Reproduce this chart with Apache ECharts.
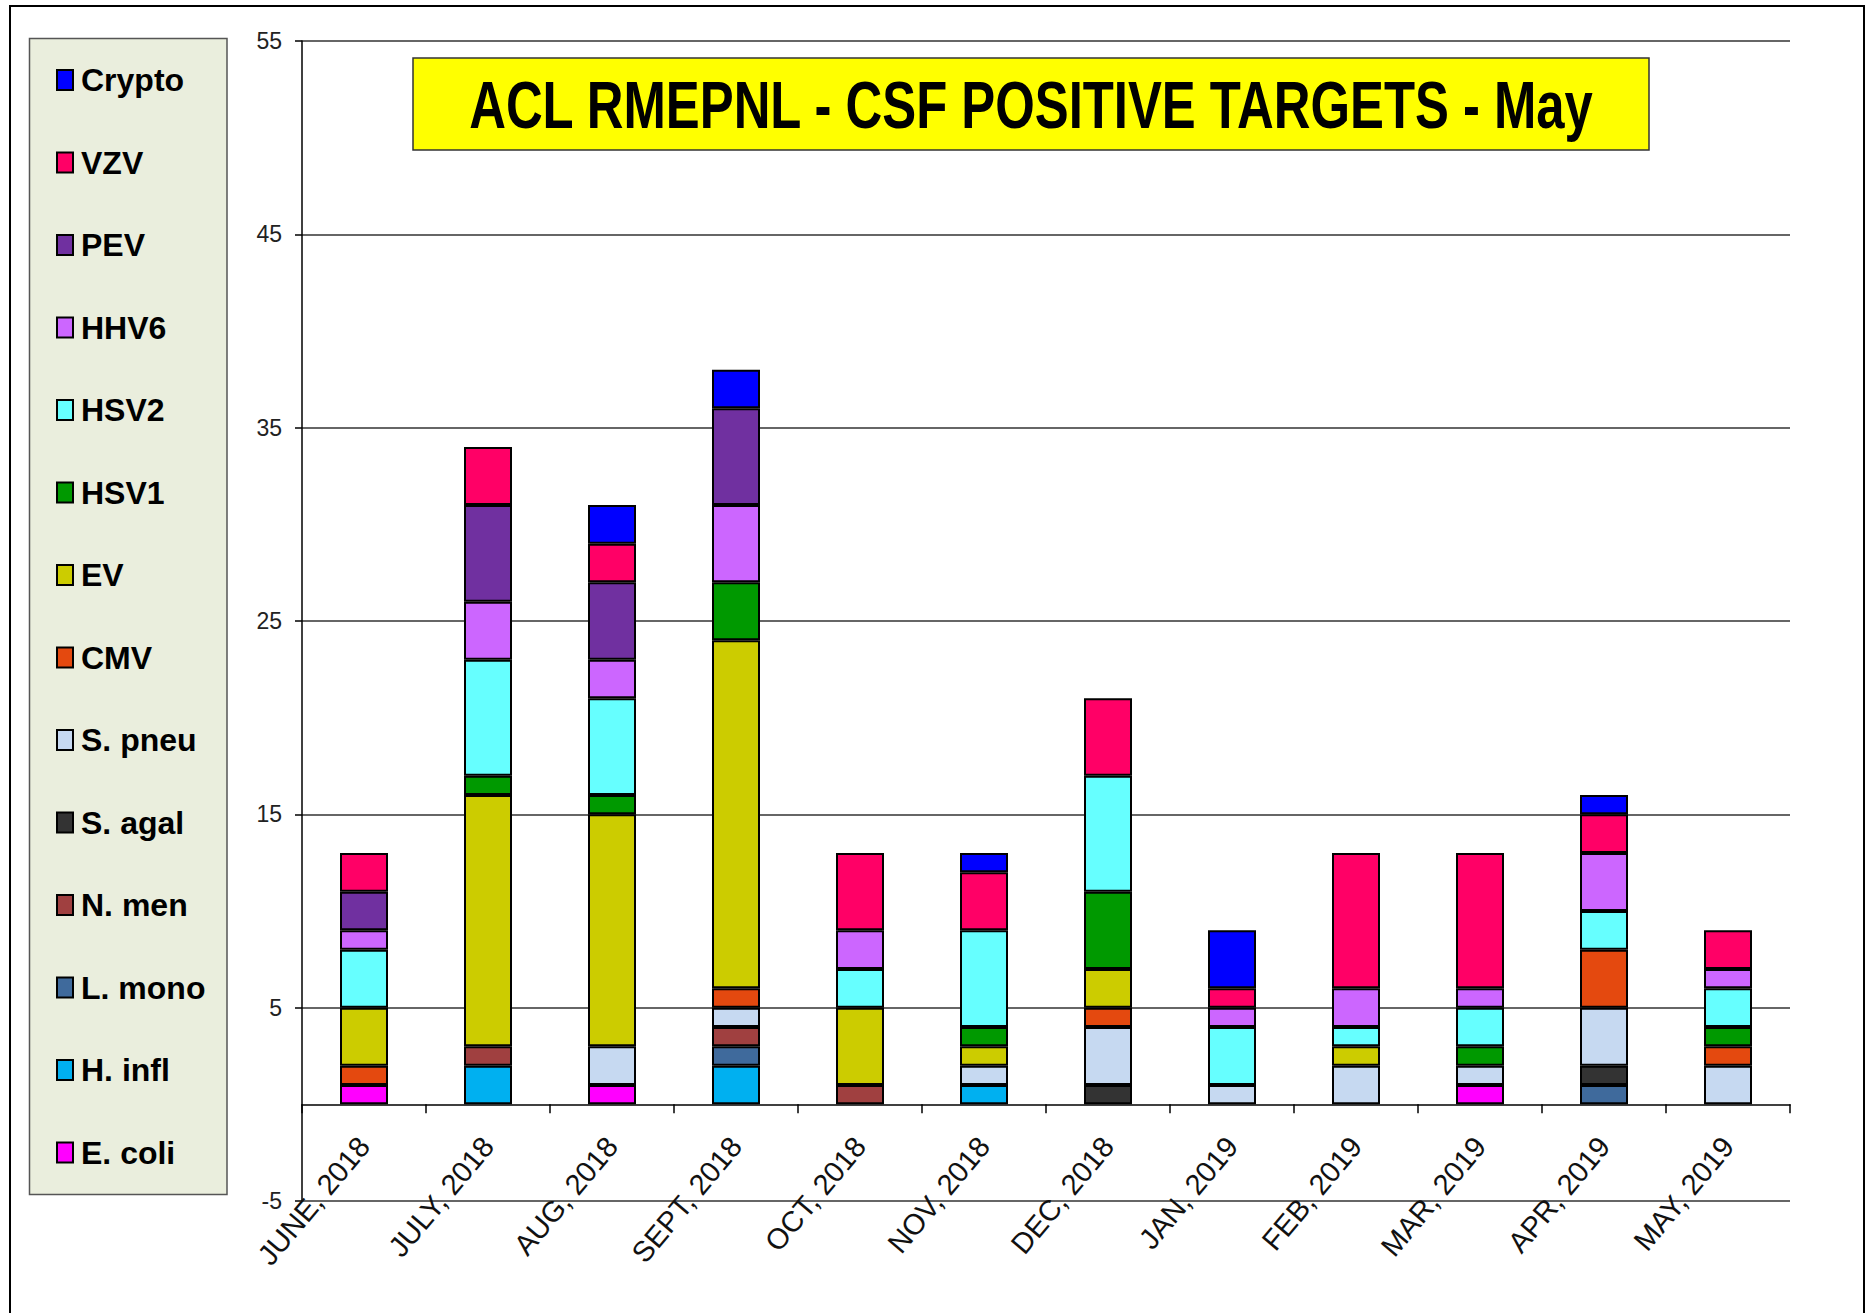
<!DOCTYPE html>
<html>
<head>
<meta charset="utf-8">
<script src="https://cdn.jsdelivr.net/npm/echarts@6/dist/echarts.min.js"></script>
<style>
html,body{margin:0;padding:0;background:#fff;}
#c{width:1868px;height:1313px;}
</style>
</head>
<body>
<div id="c"></div>
<script>
const months = ['JUNE, 2018','JULY, 2018','AUG, 2018','SEPT, 2018','OCT, 2018','NOV, 2018','DEC, 2018','JAN, 2019','FEB, 2019','MAR, 2019','APR, 2019','MAY, 2019'];
const yTicks = {min: -5, max: 55, interval: 10};

const eColi  = [1,0,1,0,0,0,0,0,0,1,0,0];
const hInfl  = [0,2,0,2,0,1,0,0,0,0,0,0];
const lMono  = [0,0,0,1,0,0,0,0,0,0,1,0];
const nMen   = [0,1,0,1,1,0,0,0,0,0,0,0];
const sAgal  = [0,0,0,0,0,0,1,0,0,0,1,0];
const sPneu  = [0,0,2,1,0,1,3,1,2,1,3,2];
const cmv    = [1,0,0,1,0,0,1,0,0,0,3,1];
const ev     = [3,13,12,18,4,1,2,0,1,0,0,0];
const hsv1   = [0,1,1,3,0,1,4,0,0,1,0,1];
const hsv2   = [3,6,5,0,2,5,6,3,1,2,2,2];
const hhv6   = [1,3,2,4,2,0,0,1,2,1,3,1];
const pev    = [2,5,4,5,0,0,0,0,0,0,0,0];
const vzv    = [2,3,2,0,4,3,4,1,7,7,2,2];
const crypto = [0,0,2,2,0,1,0,3,0,0,1,0];

const seriesNames = ['E. coli','H. infl','L. mono','N. men','S. agal','S. pneu','CMV','EV','HSV1','HSV2','HHV6','PEV','VZV','Crypto'];
const seriesValues = [eColi,hInfl,lMono,nMen,sAgal,sPneu,cmv,ev,hsv1,hsv2,hhv6,pev,vzv,crypto];
const seriesColors = ['#FF00FF','#00B0F0','#3F6A9C','#A04040','#333333','#C6D9F1','#E4490F','#CCCC00','#009900','#66FFFF','#CC66FF','#7030A0','#FF0066','#0000FF'];

const titleText = 'ACL RMEPNL - CSF POSITIVE TARGETS - May';
const sans = "'Liberation Sans',Arial,sans-serif";

const chart = echarts.init(document.getElementById('c'), null, {renderer: 'svg'});

const series = seriesNames.map((name, i) => ({
  name: name,
  type: 'bar',
  stack: 'total',
  barWidth: 48,
  data: seriesValues[i].map(v => v === 0 ? '-' : v),
  itemStyle: {color: seriesColors[i], borderColor: '#000', borderWidth: 2},
  emphasis: {disabled: true}
}));

chart.setOption({
  animation: false,
  backgroundColor: '#fff',
  graphic: [
    {type: 'rect', z: 0, shape: {x: 10, y: 6, width: 1854, height: 1400},
     style: {fill: 'none', stroke: '#000', lineWidth: 2}},
    {type: 'rect', z: 0, shape: {x: 29.5, y: 38.5, width: 197.5, height: 1156},
     style: {fill: '#EAEEDD', stroke: '#555', lineWidth: 1.5}},
    {type: 'rect', z: 5, shape: {x: 413, y: 58, width: 1236, height: 92},
     style: {fill: '#FFFF00', stroke: '#333', lineWidth: 1.5}},
    {type: 'text', z: 6, x: 1031, y: 105, scaleX: 0.77, scaleY: 1,
     style: {text: titleText, fill: '#000', font: "bold 66px " + sans,
             textAlign: 'center', textVerticalAlign: 'middle'}}
  ],
  legend: {
    orient: 'vertical',
    left: 56,
    top: 60,
    padding: 0,
    itemWidth: 16,
    itemHeight: 20,
    itemGap: 42.5,
    icon: 'rect',
    selectedMode: false,
    data: seriesNames.slice().reverse(),
    textStyle: {fontFamily: sans, fontWeight: 'bold', fontSize: 32, lineHeight: 40, color: '#000', padding: [0,0,0,3]}
  },
  grid: {left: 302, right: 78, top: 41, bottom: 112, containLabel: false, outerBoundsMode: 'none'},
  xAxis: {
    type: 'category',
    data: months,
    boundaryGap: true,
    axisLine: {show: true, onZero: true, lineStyle: {color: '#000', width: 1.5}},
    axisTick: {show: true, length: 9, lineStyle: {color: '#000', width: 1.5}},
    axisLabel: {rotate: 50, interval: 0, margin: -60, align: 'right', verticalAlign: 'middle',
                fontFamily: sans, fontSize: 29, color: '#111', hideOverlap: false},
    splitLine: {show: false}
  },
  yAxis: {
    type: 'value',
    min: yTicks.min, max: yTicks.max, interval: yTicks.interval,
    axisLine: {show: true, lineStyle: {color: '#000', width: 1.5}},
    axisTick: {show: true, length: 7, lineStyle: {color: '#000', width: 1.5}},
    axisLabel: {margin: 20, fontFamily: sans, fontSize: 23, color: '#222'},
    splitLine: {show: true, lineStyle: {color: '#333', width: 1.5}}
  },
  series: series
});
</script>
</body>
</html>
